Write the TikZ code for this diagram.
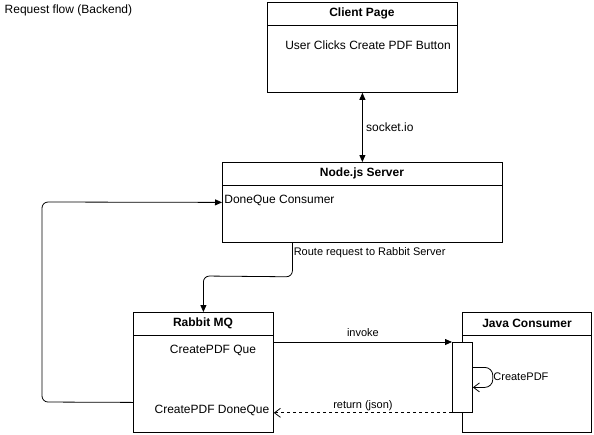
\documentclass[tikz,border=0pt]{standalone}
\usepackage{fontspec}
\setmainfont{Liberation Sans}
\usetikzlibrary{arrows.meta,calc,positioning}
\begin{document}
\begin{tikzpicture}[x=1pt,y=-1pt,line width=0.8pt,
  box/.style={draw,rectangle,anchor=north west,inner sep=0pt},
  boxtitle/.style={font=\fontsize{12}{14}\selectfont\bfseries},
  boxtext/.style={font=\fontsize{12}{14}\selectfont},
  lbl/.style={font=\fontsize{11}{13}\selectfont,inner sep=2pt}]
  \useasboundingbox (0,0) rectangle (594,434);
  \node[anchor=west,boxtext] (caption) at (1,10) {Request flow (Backend)};
  % boxes
  \node[box,minimum width=190pt,minimum height=90pt] (client) at (267,2) {};
  \node[box,minimum width=280pt,minimum height=80pt] (server) at (222,162) {};
  \node[box,minimum width=140pt,minimum height=120pt] (rabbit) at (133,312) {};
  \node[box,minimum width=129pt,minimum height=120pt] (java) at (462,312) {};
  \node[box,fill=white,minimum width=20pt,minimum height=70pt] (act) at (452,342) {};
  % headers
  \draw (client.north west) ++(0,23) -- ++(190,0);
  \draw (server.north west) ++(0,23) -- ++(280,0);
  \draw (rabbit.north west) ++(0,23) -- ++(140,0);
  \draw (java.north west) ++(0,23) -- ++(129,0);
  \node[boxtitle] (clientT) at (362,13) {Client Page};
  \node[boxtitle] (serverT) at (362,173) {Node.js Server};
  \node[boxtitle] (rabbitT) at (203,323) {Rabbit MQ};
  \node[boxtitle] (javaT) at (527,323) {Java Consumer};
  % contents
  \node[boxtext] (click) at (368,45) {User Clicks Create PDF Button};
  \node[boxtext,anchor=west,inner sep=1pt] (doneCons) at (223,200) {DoneQue Consumer};
  \node[boxtext] (createQ) at (213,350) {CreatePDF Que};
  \node[boxtext] (doneQ) at (212,410) {CreatePDF DoneQue};
  % connectors
  \draw[{Triangle[length=7pt,width=6pt]}-{Triangle[length=7pt,width=6pt]}]
    (client) -- (server) node[midway,right,boxtext] {socket.io};
  \draw[-{Triangle[length=7pt,width=6pt]},rounded corners=6pt]
    ([xshift=-70pt]server.south) node[anchor=north west,lbl,xshift=-1pt,yshift=-2pt] {Route request to Rabbit Server}
    -- ++(0,34) -- (rabbit.north |- 0,276) -- (rabbit.north);
  \draw[-{Triangle[length=7pt,width=6pt]},rounded corners=6pt]
    ($(rabbit.west)+(0,30)$) -- (42,402) -- (42,202) -- (server.west);
  \draw[-{Triangle[length=7pt,width=6pt]}]
    (rabbit.east |- act.north) -- (act.north west) node[midway,above=3pt,lbl] {invoke};
  \draw[dashed,-{Straight Barb[length=6pt,width=9pt]}]
    (act.south west) -- (rabbit.east |- act.south) node[midway,above,lbl] {return (json)};
  \draw[-{Straight Barb[length=6pt,width=9pt]},rounded corners=8pt]
    ($(act.east)+(0,-10)$) -- ++(20,0) -- ++(0,20) -- ($(act.east)+(0,10)$);
  \node[lbl,anchor=west] (createLbl) at (491,377) {CreatePDF};
\end{tikzpicture}
\end{document}
